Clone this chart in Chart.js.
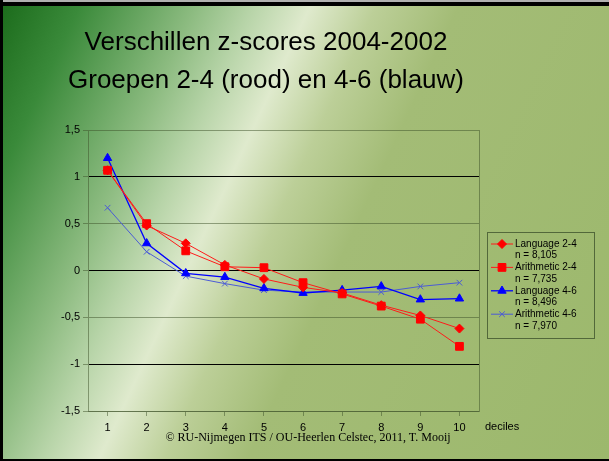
<!DOCTYPE html>
<html>
<head>
<meta charset="utf-8">
<script src="https://cdn.jsdelivr.net/npm/chart.js@4/dist/chart.umd.min.js"></script>
<style>
  html, body { margin: 0; padding: 0; }
  #slide {
    position: relative; width: 609px; height: 461px; overflow: hidden;
    background: linear-gradient(115deg, #1a6a1a 0%, #3a8a3a 10%, #8cbb80 24%, #b7d4a8 31%, #dfeacd 38%, #bccf98 46%, #a3bc76 56%, #9cb86c 100%);
    font-family: "Liberation Sans", Arial, Helvetica, sans-serif;
  }
  #title {
    position: absolute; left: 0; top: 22px; width: 532px;
    text-align: center; font-size: 26px; line-height: 38px; color: #000;
  }
  #deciles { position: absolute; left: 485px; top: 420px; font-size: 11px; line-height: 13px; }
  #footer {
    position: absolute; left: 108px; width: 400px; top: 430px; text-align: center;
    font-family: "Liberation Serif", "Times New Roman", serif; font-size: 12px; line-height: 15px;
  }
  canvas { position: absolute; left: 0; top: 0; }
  .frame { position: absolute; background: #000; }
</style>
</head>
<body>
<div id="slide">
  <canvas id="chart" width="609" height="461"></canvas>
  <div id="title">Verschillen z-scores 2004-2002<br>Groepen 2-4 (rood) en 4-6 (blauw)</div>
  <div id="deciles">deciles</div>
  <div id="footer">© RU-Nijmegen ITS / OU-Heerlen Celstec, 2011, T. Mooij</div>
  <div class="frame" style="left:0;top:0;width:609px;height:2px;background:#b0b0b0"></div>
  <div class="frame" style="left:0;top:2px;width:609px;height:4px"></div>
  <div class="frame" style="left:0;top:0;width:3px;height:461px"></div>
  <div class="frame" style="left:0;top:459px;width:609px;height:2px"></div>
</div>
<script>
// Data
var deciles = ['1','2','3','4','5','6','7','8','9','10'];
var seriesNames = ['Language 2-4', 'Arithmetic 2-4', 'Language 4-6', 'Arithmetic 4-6'];
var seriesN = ['n = 8,105', 'n = 7,735', 'n = 8,496', 'n = 7,970'];
var language24   = [1.07, 0.48, 0.29, 0.06, -0.09, -0.18, -0.24, -0.37, -0.48, -0.62];
var arithmetic24 = [1.07, 0.50, 0.21, 0.04, 0.03, -0.13, -0.25, -0.38, -0.52, -0.81];
var language46   = [1.20, 0.29, -0.03, -0.07, -0.19, -0.24, -0.21, -0.17, -0.31, -0.30];
var arithmetic46 = [0.67, 0.20, -0.06, -0.14, -0.21, -0.23, -0.23, -0.23, -0.17, -0.13];
var yTicks = [-1.5, -1, -0.5, 0, 0.5, 1, 1.5];

var GRAY = 'rgba(60,80,40,0.5)';
var FONT = '"Liberation Sans", Arial, Helvetica, sans-serif';

function drawMarker(ctx, ds, x, y) {
  ctx.save();
  ctx.fillStyle = ds.pointBackgroundColor;
  ctx.strokeStyle = ds.pointBorderColor;
  ctx.lineWidth = ds.pointBorderWidth;
  if (window.Chart && Chart.helpers && Chart.helpers.drawPoint) {
    Chart.helpers.drawPoint(ctx, { pointStyle: ds.pointStyle, radius: ds.pointRadius, rotation: 0, borderWidth: ds.pointBorderWidth }, x, y);
  } else {
    ctx.beginPath(); ctx.arc(x, y, ds.pointRadius, 0, Math.PI * 2); ctx.fill();
  }
  ctx.restore();
}

// Plot frame + legend box
var slidePlugin = {
  id: 'slidePlugin',
  beforeDatasetsDraw: function (chart) {
    var a = chart.chartArea, ctx = chart.ctx;
    ctx.save();
    ctx.strokeStyle = GRAY;
    ctx.lineWidth = 1;
    ctx.beginPath();
    ctx.moveTo(a.right + 0.5, a.top);
    ctx.lineTo(a.right + 0.5, a.bottom);
    ctx.stroke();
    ctx.restore();
  },
  afterDraw: function (chart) {
    var ctx = chart.ctx;
    var bx = 487, by = 232, bw = 107, bh = 106;
    ctx.save();
    ctx.strokeStyle = 'rgba(50,70,35,0.7)';
    ctx.lineWidth = 1;
    ctx.strokeRect(bx + 0.5, by + 0.5, bw, bh);
    ctx.font = '10px ' + FONT;
    ctx.fillStyle = '#000';
    ctx.textBaseline = 'middle';
    chart.data.datasets.forEach(function (ds, i) {
      var ly = 244 + i * 23.4;
      ctx.save();
      ctx.strokeStyle = ds.borderColor;
      ctx.lineWidth = ds.borderWidth;
      ctx.beginPath();
      ctx.moveTo(491, ly);
      ctx.lineTo(513, ly);
      ctx.stroke();
      ctx.restore();
      drawMarker(ctx, ds, 502, ly);
      ctx.fillStyle = '#000';
      ctx.fillText(seriesNames[i], 515, ly);
      ctx.fillText(seriesN[i], 515, ly + 11.6);
    });
    ctx.restore();
  }
};

var ctx = document.getElementById('chart').getContext('2d');
var chart = new Chart(ctx, {
  type: 'line',
  data: {
    labels: deciles,
    datasets: [
      { label: seriesNames[0], data: language24, borderColor: '#ff1a1a', borderWidth: 1,
        pointStyle: 'rectRot', pointRadius: 4.5, pointBackgroundColor: '#ff0000', pointBorderColor: '#ff0000', pointBorderWidth: 1 },
      { label: seriesNames[1], data: arithmetic24, borderColor: '#ff1a1a', borderWidth: 1,
        pointStyle: 'rect', pointRadius: 5.5, pointBackgroundColor: '#ff0000', pointBorderColor: '#ff0000', pointBorderWidth: 1 },
      { label: seriesNames[2], data: language46, borderColor: '#0000ff', borderWidth: 1.3,
        pointStyle: 'triangle', pointRadius: 4.8, pointBackgroundColor: '#0000ff', pointBorderColor: '#0000ff', pointBorderWidth: 1 },
      { label: seriesNames[3], data: arithmetic46, borderColor: '#4b5bd6', borderWidth: 1,
        pointStyle: 'crossRot', pointRadius: 4, pointBackgroundColor: '#4b5bd6', pointBorderColor: '#4b5bd6', pointBorderWidth: 1 }
    ]
  },
  options: {
    responsive: false,
    animation: false,
    layout: { padding: { left: 48, right: 130, top: 130, bottom: 0 } },
    plugins: { legend: { display: false }, title: { display: false }, tooltip: { enabled: false } },
    elements: { line: { tension: 0 } },
    scales: {
      x: {
        offset: true,
        grid: { offset: false, drawOnChartArea: false, drawTicks: true, tickLength: 5, tickColor: GRAY, color: GRAY },
        border: { color: GRAY, width: 1 },
        ticks: { color: '#000', font: { family: FONT, size: 11 }, padding: 5, maxRotation: 0 },
        afterFit: function (s) { s.height = 50; }
      },
      y: {
        min: -1.5, max: 1.5,
        afterBuildTicks: function (s) { s.ticks = yTicks.map(function (v) { return { value: v }; }); },
        grid: {
          color: function (c) {
            var v = c.tick ? c.tick.value : 0;
            return (Math.abs(v) === 1 || v === 0) ? '#000' : GRAY;
          },
          tickColor: GRAY, tickLength: 5, lineWidth: 1
        },
        border: { color: GRAY, width: 1 },
        ticks: {
          color: '#000', font: { family: FONT, size: 11 }, padding: 3,
          callback: function (v) { return String(v).replace('.', ','); }
        },
        afterFit: function (s) { s.width = 40; }
      }
    }
  },
  plugins: [slidePlugin]
});
</script>
</body>
</html>
